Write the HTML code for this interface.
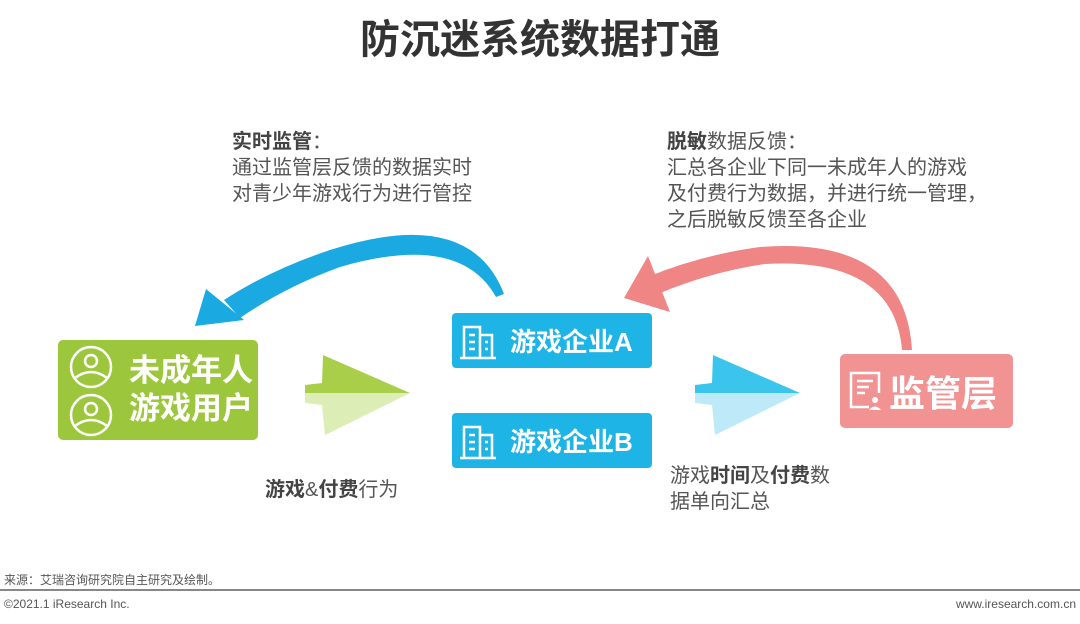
<!DOCTYPE html>
<html><head><meta charset="utf-8"><style>
body{margin:0;width:1080px;height:624px;background:#fff;position:relative;overflow:hidden;font-family:"Liberation Sans","Noto Sans CJK SC",sans-serif;color:#555}
.a{position:absolute;white-space:nowrap}
.box{position:absolute;color:#fff;font-weight:bold;display:flex;align-items:center}
.t{font-size:20px;line-height:26px}
</style></head><body>
<div class="a" style="left:0;width:1080px;top:14px;text-align:center;font-size:40px;font-weight:bold;color:#333;line-height:52px">防沉迷系统数据打通</div>

<div class="a t" style="left:232px;top:129px"><b style="color:#444">实时监管</b>：<br>通过监管层反馈的数据实时<br>对青少年游戏行为进行管控</div>
<div class="a t" style="left:667px;top:129px"><b style="color:#444">脱敏</b>数据反馈：<br>汇总各企业下同一未成年人的游戏<br>及付费行为数据，并进行统一管理，<br>之后脱敏反馈至各企业</div>

<svg class="a" style="left:0;top:0" width="1080" height="624">
<path d="M504,294 Q470,205 330,250 Q270,270 224,300 L240,318 Q285,287 340,267 Q460,232 496,297 Z" fill="#1aa9e0"/>
<polygon points="195,326 206,289 244,320" fill="#1aa9e0"/>
<path d="M912,350 Q905,236 760,247 Q700,255 645,278 L658,294 Q710,272 765,264 Q894,257 902,350 Z" fill="#ef8585"/>
<polygon points="624,298 648,256 670,312" fill="#ef8585"/>
<polygon points="323,355 410,393 305,393 305,385 322,383" fill="#a9cf4a"/>
<polygon points="305,393 410,393 325,435 322,405 305,403" fill="#dcedb6"/>
<polygon points="713,355 800,393 695,393 695,385 712,383" fill="#3cc5ec"/>
<polygon points="695,393 800,393 715,435 712,405 695,403" fill="#bde9f8"/>
</svg>

<div class="box" style="left:58px;top:340px;width:200px;height:100px;background:#9cc73c;border-radius:5px;font-size:31px;line-height:38px">
<svg width="60" height="100" style="margin-left:5px"><g fill="none" stroke="#fff" stroke-width="2.5"><circle cx="28" cy="27" r="20"/><circle cx="28" cy="21" r="6"/><path d="M12,38 Q28,26 44,38"/><circle cx="28" cy="75" r="20"/><circle cx="28" cy="69" r="6"/><path d="M12,86 Q28,74 44,86"/></g></svg>
<div style="margin-left:6px">未成年人<br>游戏用户</div></div>

<div class="box" style="left:452px;top:313px;width:200px;height:55px;background:#1fb4e6;border-radius:4px;font-size:26px"><svg width="44" height="40" style="margin-left:6px"><g fill="none" stroke="#fff" stroke-width="2.5"><path d="M6,36 V6 H22 V36 M22,14 H34 V36 M2,37 H38"/><path d="M11,14h6M11,21h6M11,28h6M27,21h3M27,28h3"/></g></svg><span style="margin-left:8px">游戏企业A</span></div>
<div class="box" style="left:452px;top:413px;width:200px;height:55px;background:#1fb4e6;border-radius:4px;font-size:26px"><svg width="44" height="40" style="margin-left:6px"><g fill="none" stroke="#fff" stroke-width="2.5"><path d="M6,36 V6 H22 V36 M22,14 H34 V36 M2,37 H38"/><path d="M11,14h6M11,21h6M11,28h6M27,21h3M27,28h3"/></g></svg><span style="margin-left:8px">游戏企业B</span></div>

<div class="box" style="left:840px;top:354px;width:173px;height:74px;background:#f19393;border-radius:5px;font-size:36px"><svg width="40" height="44" style="margin-left:7px"><g fill="none" stroke="#fff" stroke-width="2.5"><path d="M22,38 H4 V4 H32 V24"/><path d="M10,12h16M10,18h12M10,24h8"/></g><circle cx="28" cy="31" r="3" fill="#fff"/><path d="M22,41 Q28,34 34,41Z" fill="#fff"/></svg><span style="margin-left:2px">监管层</span></div>

<div class="a t" style="left:265px;top:477px"><b style="color:#444">游戏</b>&amp;<b style="color:#444">付费</b>行为</div>
<div class="a t" style="left:670px;top:463px">游戏<b style="color:#444">时间</b>及<b style="color:#444">付费</b>数<br>据单向汇总</div>

<div class="a" style="left:4px;top:571px;font-size:12px;color:#555">来源：艾瑞咨询研究院自主研究及绘制。</div>
<div class="a" style="left:0;top:589px;width:1080px;height:2px;background:#888"></div>
<div class="a" style="left:4px;top:597px;font-size:12px;color:#555">©2021.1 iResearch Inc.</div>
<div class="a" style="right:4px;top:597px;font-size:12px;color:#555">www.iresearch.com.cn</div>
</body></html>
